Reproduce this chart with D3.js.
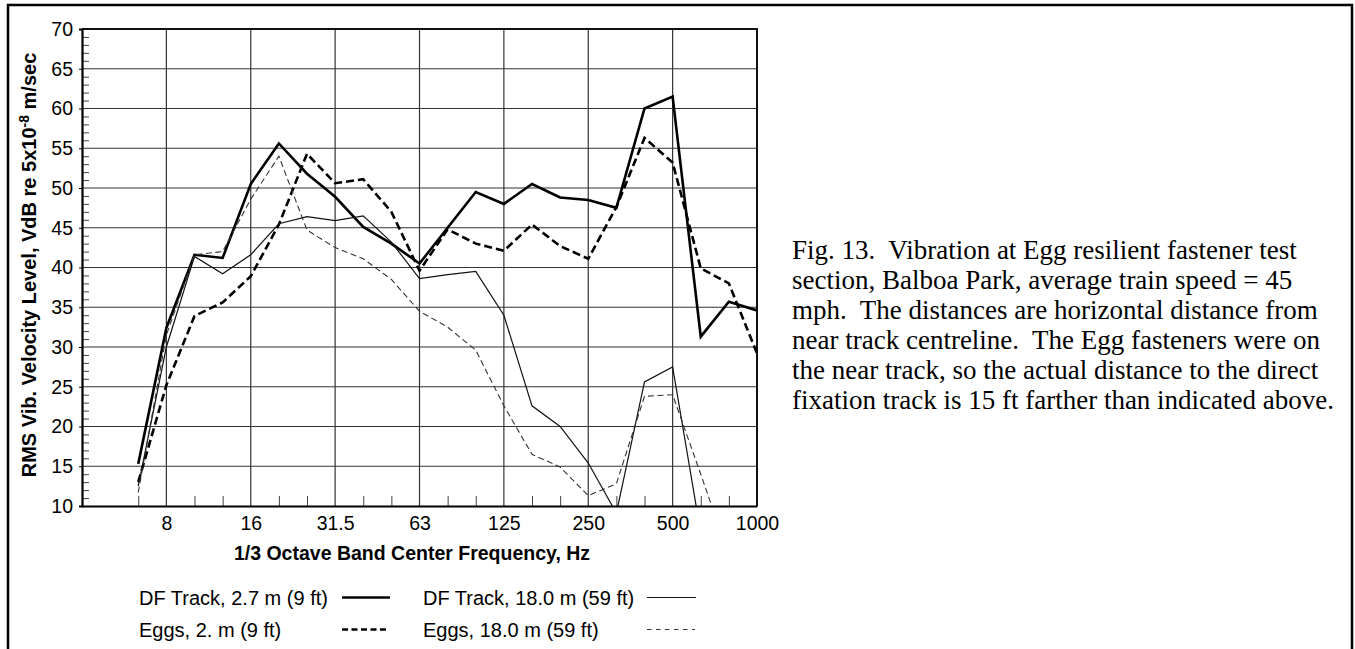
<!DOCTYPE html>
<html>
<head>
<meta charset="utf-8">
<script src="https://cdn.jsdelivr.net/npm/d3@7"></script>
<style>
  body { margin: 0; background: #fff; }
  svg { display: block; }
</style>
</head>
<body>
<svg width="1355" height="649"></svg>
<script>
// 1/3 octave band centre frequencies, Hz
const bands = ["4", "5", "6.3", "8", "10", "12.5", "16", "20", "25", "31.5", "40", "50",
  "63", "80", "100", "125", "160", "200", "250", "315", "400", "500", "630", "800", "1000"];
const majorBands = ["8", "16", "31.5", "63", "125", "250", "500", "1000"];
const yTicks = [10, 15, 20, 25, 30, 35, 40, 45, 50, 55, 60, 65, 70];

// VdB per band (null = no reading / off the chart)
const dfNear = [null, null, 15.3, 32.4, 41.6, 41.2, 50.5, 55.6, 51.8, 48.9, 45.1, 43.0,
  40.5, 45.0, 49.5, 48.0, 50.5, 48.8, 48.5, 47.5, 60.0, 61.5, 31.3, 35.7, 34.6];
const eggsNear = [null, null, 13.0, 25.2, 33.9, 35.6, 38.9, 45.4, 54.3, 50.6, 51.1, 47.0,
  39.6, 44.8, 43.0, 42.1, 45.4, 42.7, 41.1, 47.6, 56.3, 53.2, 39.9, 38.0, 29.2];
const dfFar = [null, null, 12.5, 30.0, 41.4, 39.2, 41.6, 45.5, 46.4, 45.9, 46.5, 43.2,
  38.6, 39.1, 39.5, 34.0, 22.6, 20.0, 15.4, 9.1, 25.6, 27.5, 6.6, null, null];
const eggsFar = [null, null, 11.7, 31.5, 41.6, 42.0, 48.6, 54.0, 44.7, 42.5, 41.1, 38.5,
  34.5, 32.5, 29.6, 22.6, 16.5, 14.9, 11.3, 12.8, 23.8, 24.0, 14.0, 3.8, null];

const seriesNames = ["DF Track, 2.7 m (9 ft)", "Eggs, 2. m (9 ft)",
  "DF Track, 18.0 m (59 ft)", "Eggs, 18.0 m (59 ft)"];

const captionLines = [
  "Fig. 13.  Vibration at Egg resilient fastener test",
  "section, Balboa Park, average train speed = 45",
  "mph.  The distances are horizontal distance from",
  "near track centreline.  The Egg fasteners were on",
  "the near track, so the actual distance to the direct",
  "fixation track is 15 ft farther than indicated above.",
];

const svg = d3.select("svg");
const sans = "'Liberation Sans', Arial, Helvetica, sans-serif";
const serif = "'Liberation Serif', 'Times New Roman', serif";

const plot = { left: 82, right: 757, top: 29, bottom: 506 };

const x = d3.scalePoint().domain(bands).range([plot.left, plot.right]);
const y = d3.scaleLinear().domain([10, 70]).range([plot.bottom, plot.top]);

// outer figure frame (open at the bottom)
svg.append("path")
  .attr("d", "M8,649V5H1352V649")
  .attr("fill", "none")
  .attr("stroke", "#000")
  .attr("stroke-width", 2.5);

// grid
svg.append("g")
  .selectAll("line")
  .data(yTicks.filter((v) => v > 10 && v < 70))
  .enter()
  .append("line")
  .attr("x1", plot.left)
  .attr("x2", plot.right)
  .attr("y1", (d) => y(d))
  .attr("y2", (d) => y(d))
  .attr("stroke", "#333")
  .attr("stroke-width", 1.2);

svg.append("g")
  .selectAll("line")
  .data(majorBands.filter((b) => b !== "1000"))
  .enter()
  .append("line")
  .attr("x1", (d) => x(d))
  .attr("x2", (d) => x(d))
  .attr("y1", plot.top)
  .attr("y2", plot.bottom)
  .attr("stroke", "#333")
  .attr("stroke-width", 1.2);

// top and right edges of the plot
svg.append("path")
  .attr("d", `M${plot.left},${plot.top}H${plot.right}V${plot.bottom}`)
  .attr("fill", "none")
  .attr("stroke", "#111")
  .attr("stroke-width", 2);

// minor ticks
svg.append("g")
  .attr("transform", `translate(${plot.left},0)`)
  .call(d3.axisLeft(y).tickValues(d3.range(11, 70).filter((v) => v % 5 !== 0)).tickSize(-7).tickFormat(""))
  .call((g) => g.select(".domain").remove())
  .selectAll("line").attr("stroke", "#444");

svg.append("g")
  .attr("transform", `translate(0,${plot.bottom})`)
  .call(d3.axisBottom(x)
    .tickValues(bands.filter((b) => !majorBands.includes(b) && +b >= 6.3))
    .tickSize(-10).tickFormat(""))
  .call((g) => g.select(".domain").remove())
  .selectAll("line").attr("stroke", "#444");

// lines
const clip = svg.append("clipPath").attr("id", "plot-clip")
  .append("rect")
  .attr("x", plot.left)
  .attr("y", plot.top)
  .attr("width", plot.right - plot.left)
  .attr("height", plot.bottom - plot.top);

const series = [
  { name: seriesNames[0], values: dfNear, width: 2.6, dash: null, color: "#000" },
  { name: seriesNames[1], values: eggsNear, width: 2.6, dash: "8,4", color: "#000" },
  { name: seriesNames[2], values: dfFar, width: 1.2, dash: null, color: "#111" },
  { name: seriesNames[3], values: eggsFar, width: 1.1, dash: "6,3.5", color: "#333" },
];

const line = d3.line()
  .defined((d) => d.v !== null)
  .x((d) => x(d.b))
  .y((d) => y(d.v));

svg.append("g")
  .attr("clip-path", "url(#plot-clip)")
  .selectAll("path")
  .data(series)
  .enter()
  .append("path")
  .attr("d", (s) => line(bands.map((b, i) => ({ b: b, v: s.values[i] }))))
  .attr("fill", "none")
  .attr("stroke", (s) => s.color)
  .attr("stroke-width", (s) => s.width)
  .attr("stroke-dasharray", (s) => s.dash)
  .attr("stroke-linejoin", "miter");

// Y axis
const yAxis = svg.append("g")
  .attr("transform", `translate(${plot.left},0)`)
  .call(d3.axisLeft(y).tickValues(yTicks).tickSize(3).tickPadding(6));
yAxis.select(".domain").attr("stroke-width", 2.2);
yAxis.selectAll("text").style("font-family", sans).style("font-size", "19.5px").attr("fill", "#000");

// X axis
const xAxis = svg.append("g")
  .attr("transform", `translate(0,${plot.bottom})`)
  .call(d3.axisBottom(x).tickValues(majorBands).tickSize(0).tickPadding(10));
xAxis.select(".domain").attr("stroke-width", 2.2);
xAxis.selectAll("text").style("font-family", sans).style("font-size", "19.5px").attr("fill", "#000");

// X label
svg.append("text")
  .attr("x", 412)
  .attr("y", 560)
  .attr("text-anchor", "middle")
  .style("font-family", sans)
  .style("font-size", "19.5px")
  .style("font-weight", "bold")
  .text("1/3 Octave Band Center Frequency, Hz");

// Y label
const yLabel = svg.append("text")
  .attr("transform", "translate(36,265)rotate(-90)")
  .attr("text-anchor", "middle")
  .style("font-family", sans)
  .style("font-size", "20px")
  .style("font-weight", "bold");
yLabel.append("tspan").text("RMS Vib. Velocity Level, VdB re 5x10");
yLabel.append("tspan").attr("dy", -7).style("font-size", "14px").text("-8");
yLabel.append("tspan").attr("dy", 7).text(" m/sec");

// legend
const legendPos = [
  { tx: 139, ty: 605, lx: 342, ly: 597.5, lw: 48 },
  { tx: 139, ty: 637, lx: 342, ly: 629.5, lw: 46 },
  { tx: 423, ty: 605, lx: 647, ly: 597.5, lw: 49 },
  { tx: 423, ty: 637, lx: 647, ly: 629.5, lw: 48 },
];
const legendDash = [null, "6,3.5", null, "4.5,4.5"];

const legend = svg.append("g")
  .selectAll("g")
  .data(series)
  .enter()
  .append("g");

legend.append("text")
  .attr("x", (d, i) => legendPos[i].tx)
  .attr("y", (d, i) => legendPos[i].ty)
  .style("font-family", sans)
  .style("font-size", "20px")
  .text((d) => d.name);

legend.append("line")
  .attr("x1", (d, i) => legendPos[i].lx)
  .attr("x2", (d, i) => legendPos[i].lx + legendPos[i].lw)
  .attr("y1", (d, i) => legendPos[i].ly)
  .attr("y2", (d, i) => legendPos[i].ly)
  .attr("stroke", (d) => d.color)
  .attr("stroke-width", (d) => d.width)
  .attr("stroke-dasharray", (d, i) => legendDash[i]);

// caption
svg.append("g")
  .selectAll("text")
  .data(captionLines)
  .enter()
  .append("text")
  .attr("x", 792)
  .attr("y", (d, i) => 259 + i * 30)
  .style("font-family", serif)
  .style("font-size", "27px")
  .style("white-space", "pre")
  .text((d) => d);
</script>
</body>
</html>
